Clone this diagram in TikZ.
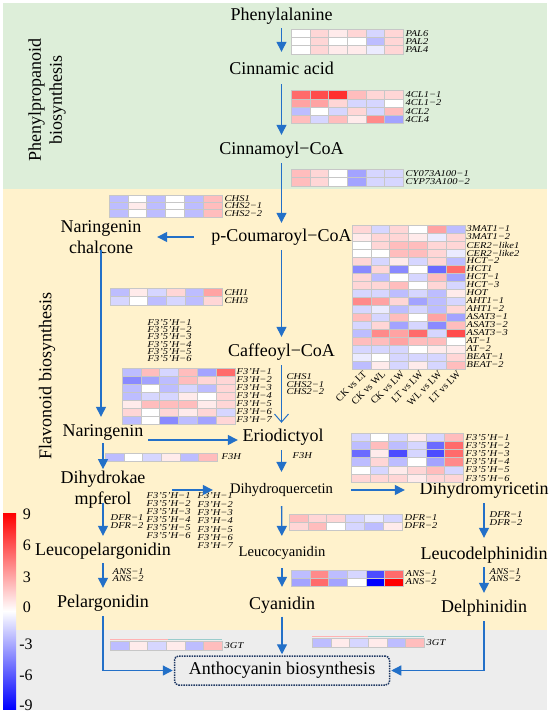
\documentclass[tikz,border=0pt]{standalone}
\usepackage{fontspec}
\setmainfont{Liberation Serif}
\usetikzlibrary{arrows.meta,calc}
\definecolor{arrblue}{RGB}{35,112,200}
\definecolor{bggreen}{RGB}{221,238,217}
\definecolor{bgyellow}{RGB}{255,242,204}
\definecolor{bggrey}{RGB}{237,237,237}
\definecolor{boxblue}{RGB}{31,56,100}
\colorlet{W}{white}
\colorlet{R1}{red!8}\colorlet{R2}{red!16}\colorlet{R3}{red!26}\colorlet{R4}{red!36}\colorlet{R5}{red!46}
\colorlet{R6}{red!58}\colorlet{R7}{red!70}\colorlet{R8}{red!82}\colorlet{R9}{red}
\colorlet{B1}{blue!8}\colorlet{B2}{blue!16}\colorlet{B3}{blue!26}\colorlet{B4}{blue!36}\colorlet{B5}{blue!46}
\colorlet{B6}{blue!58}\colorlet{B7}{blue!70}\colorlet{B8}{blue!82}\colorlet{B9}{blue}
% heatmap: x0, y0 (top), cell width, cell height, rows
\newcommand\heat[5]{%
  \foreach \rw [count=\i] in {#5}{%
    \foreach \cc [count=\j] in \rw {%
      \filldraw[fill=\cc, draw=black!22, line width=0.35pt]
        ({#1+(\j-1)*#3},{#2+(\i-1)*#4}) rectangle ++(#3,#4);}}}
% gene labels: name prefix, x, y of first, spacing, list
\newcommand\glab[5]{%
  \foreach \t [count=\k] in {#5}{%
    \node[gene] (#1\k) at (#2,{#3+(\k-1)*#4}) {\scalebox{1}[0.85]{\t}};}}
\begin{document}
\begin{tikzpicture}[x=1pt,y=-1pt,
  mainlab/.style={font=\fontsize{18}{21}\selectfont, inner sep=2pt, text height=13pt, text depth=4pt},
  mainml/.style={font=\fontsize{18}{21}\selectfont, inner sep=2pt, align=center},
  smalllab/.style={font=\fontsize{14.6}{17}\selectfont, inner sep=2pt, text height=10.5pt, text depth=3.2pt},
  gene/.style={font=\fontsize{10.5}{10.5}\selectfont\itshape, inner sep=0.5pt, anchor=west},
  collab/.style={font=\fontsize{10}{10}\selectfont, inner sep=0.5pt, anchor=east, rotate=45},
  cbl/.style={font=\fontsize{16}{16}\selectfont, inner sep=0pt},
  flow/.style={draw=arrblue, line width=1.3pt, -{Triangle[length=10pt,width=10pt]}},
  flowopen/.style={draw=arrblue, line width=1pt, -{Straight Barb[length=8pt,width=14pt]}},
  abox/.style={draw=boxblue, densely dotted, line width=1.5pt, rounded corners=4pt,
    minimum width=215pt, minimum height=29pt, font=\fontsize{18}{21}\selectfont, inner sep=2pt}
]
\useasboundingbox (0,0) rectangle (550,713);
% backgrounds
\fill[bggreen] (3,3) rectangle (547,189);
\fill[bgyellow] (3,189) rectangle (547,630);
\fill[bggrey] (3,630) rectangle (547,710);
% side titles
\node[mainml, rotate=90] (tphen) at (47,100) {Phenylpropanoid\\biosynthesis};
\node[mainml, rotate=90] (tflav) at (47,376) {Flavonoid biosynthesis};
% colour bar
\shade[top color=red, bottom color=blue, middle color=white] (3,513) rectangle (16,709);
\node[cbl] (cb1) at (27,514) {9};
\node[cbl] (cb2) at (27,545) {6};
\node[cbl] (cb3) at (27,577) {3};
\node[cbl] (cb4) at (27,607) {0};
\node[cbl] (cb5) at (26,644) {-3};
\node[cbl] (cb6) at (26,675) {-6};
\node[cbl] (cb7) at (26,705) {-9};
% metabolites
\node[mainlab] (phe) at (281.5,16) {Phenylalanine};
\node[mainlab] (cin) at (281.5,70) {Cinnamic acid};
\node[mainlab] (cinn) at (281.5,150) {Cinnamoyl−CoA};
\node[mainlab] (pcou) at (281.5,237) {p-Coumaroyl−CoA};
\node[mainml] (chal) at (101,237) {Naringenin\\chalcone};
\node[mainlab] (caf) at (281.5,352) {Caffeoyl−CoA};
\node[mainlab] (nar) at (103,432) {Naringenin};
\node[mainlab] (eri) at (283,437) {Eriodictyol};
\node[mainml] (dhk) at (103,490) {Dihydrokae\\mpferol};
\node[smalllab] (dhq) at (281.5,490) {Dihydroquercetin};
\node[mainlab] (dhm) at (484,490) {Dihydromyricetin};
\node[mainlab] (lpel) at (103,551) {Leucopelargonidin};
\node[smalllab] (lcya) at (282,553) {Leucocyanidin};
\node[mainlab] (ldel) at (484,555) {Leucodelphinidin};
\node[mainlab] (pel) at (103,603) {Pelargonidin};
\node[mainlab] (cya) at (282,605) {Cyanidin};
\node[mainlab] (del) at (484,608) {Delphinidin};
\node[abox] (anth) at (282,670.5) {Anthocyanin biosynthesis};
% heatmaps
\heat{291}{29}{18.7}{8.3}{{W,R2,R1,R2,B2,R2},{W,R2,W,W,B3,R2},{W,R2,R1,R1,B1,R2}}
\heat{291}{90.5}{18.7}{8.25}{{R6,R7,R8,R3,R2,R2},{R4,R4,R2,B2,B2,W},{B3,W,B2,R2,B2,R3},{R3,B2,R3,R1,R5,B4}}
\heat{291}{169}{18.7}{8.5}{{R3,R2,W,B4,B2,B2},{R3,R2,W,B4,B2,B2}}
\heat{109}{195}{18.8}{7.3}{{B3,W,B3,W,B3,R3},{B3,R1,B3,W,B3,R3},{B3,W,B3,W,B3,R3}}
\heat{110}{288}{18.7}{8.5}{{B3,R1,B2,R2,B3,R4},{B2,W,B3,B2,B3,R2}}
\heat{352}{225}{18.8}{8}{{R2,B2,R2,W,R4,B3},{R1,R2,R2,R1,B1,R2},{W,R2,R3,R3,R2,R2},{W,W,R3,R3,R2,B1},
 {R2,B2,R1,B2,R2,B3},{B5,R2,B5,W,B6,R6},{R2,B3,W,B2,R3,B4},{R2,R2,R3,W,R2,B2},{B2,B2,B3,B2,B3,R1},
 {R5,R4,R2,B4,B3,B2},{B2,B1,B3,B2,B3,R2},{R3,B2,R3,W,R4,B4},{B2,R2,B4,B2,B5,R3},{B3,R5,R4,R6,B2,R7},
 {R3,R3,R4,R3,R3,W},{B2,B2,B2,W,R1,R1},{B1,W,B2,B2,B2,R2},{B3,R1,B2,R1,B2,R3}}
\heat{122}{368}{18.8}{8}{{B3,R3,B2,R3,B4,R6},{B5,B4,B3,R3,R2,R2},{B3,W,B3,B2,B3,R2},{B3,B2,B2,R1,W,R2},
 {R1,R3,R3,R3,R1,R2},{R2,W,R2,R1,R2,B2},{B3,W,B5,B3,B4,R2}}
\heat{105}{453}{18.7}{8.5}{{B3,W,B2,R1,B3,R3}}
\heat{351}{433}{18.7}{8.2}{{B2,W,B2,R1,B2,R3},{B3,R3,B3,B2,B6,R6},{B6,R1,B7,B2,B7,R6},{B3,R2,B3,W,B4,R5},
 {W,B2,R1,R2,R3,B2},{R2,R2,R2,R1,R2,R2}}
\heat{289}{514}{18.8}{8}{{R3,R2,R2,B2,B1,B2},{R2,R3,W,B2,B3,R1}}
\heat{291}{570}{18.7}{8}{{B3,R5,B3,B2,B7,R6},{B4,R6,B4,W,B9,R9}}
\draw[red!30, line width=0.6pt] (110,639) -- (168,639);
\draw[teal!40, line width=0.6pt] (168,639) -- (222,639);
\heat{110}{641}{18.7}{9}{{B3,R1,B2,R1,B3,R3}}
\draw[red!30, line width=0.6pt] (312,636) -- (368,636);
\draw[teal!40, line width=0.6pt] (368,636) -- (424,636);
\heat{312}{638}{18.7}{9}{{B3,R1,B2,R1,B3,R3}}
% gene labels
\glab{pal}{405}{33.2}{8.3}{PAL6,PAL2,PAL4}
\glab{cl}{405}{94.6}{8.25}{4CL1−1,4CL1−2,4CL2,4CL4}
\glab{cyp}{405}{173.2}{8.5}{CY073A100−1,CYP73A100−2}
\glab{chsa}{224}{198.6}{7.3}{CHS1,CHS2−1,CHS2−2}
\glab{chi}{224}{292.2}{8.5}{CHI1,CHI3}
\glab{big}{466}{229}{8}{3MAT1−1,3MAT1−2,CER2−like1,CER2−like2,HCT−2,HCT1,HCT−1,HCT−3,HOT,AHT1−1,AHT1−2,ASAT3−1,ASAT3−2,ASAT3−3,AT−1,AT−2,BEAT−1,BEAT−2}
\glab{ffa}{147}{322.6}{7.2}{F3'5'H−1,F3'5'H−2,F3'5'H−3,F3'5'H−4,F3'5'H−5,F3'5'H−6}
\glab{fha}{236}{372}{8}{F3'H−1,F3'H−2,F3'H−3,F3'H−4,F3'H−5,F3'H−6,F3'H−7}
\glab{chsb}{286}{377}{7.5}{CHS1,CHS2−1,CHS2−2}
\glab{fth}{221}{457}{8}{F3H}
\glab{ftm}{292}{456}{8}{F3H}
\glab{ffb}{465}{437.1}{8.2}{F3'5'H−1,F3'5'H−2,F3'5'H−3,F3'5'H−4,F3'5'H−5,F3'5'H−6}
\glab{ffc}{146}{496}{8}{F3'5'H−1,F3'5'H−2,F3'5'H−3,F3'5'H−4,F3'5'H−5,F3'5'H−6}
\glab{fhc}{197}{496}{8.3}{F3'H−1,F3'H−2,F3'H−3,F3'H−4,F3'H−5,F3'H−6,F3'H−7}
\glab{dfra}{110}{518}{8}{DFR−1,DFR−2}
\glab{ansa}{112}{572}{7}{ANS−1,ANS−2}
\glab{dfrb}{404}{518}{8}{DFR−1,DFR−2}
\glab{ansb}{405}{574}{8}{ANS−1,ANS−2}
\glab{dfrc}{489}{515}{7.5}{DFR−1,DFR−2}
\glab{ansc}{489}{572}{7}{ANS−1,ANS−2}
\glab{gta}{224}{645.5}{8}{3GT}
\glab{gtb}{426}{642.5}{8}{3GT}
% column labels
\foreach \t [count=\k] in {CK vs LT,CK vs WL,CK vs LW,LT vs LW,WL vs LW,LT vs LW}
  \node[collab] (col\k) at ({352+18.8*(\k-0.5)+4},372) {\t};
% connectors
\draw[flow, shorten <=1.5pt, shorten >=7.5pt] (phe) -- (cin);
\draw[flow, shorten <=3.5pt, shorten >=4.5pt] (cin) -- (cinn);
\draw[flow, shorten <=2.5pt, shorten >=3.5pt] (cinn) -- (pcou);
\draw[flow, shorten <=2.5pt, shorten >=4.5pt] (pcou) -- (caf);
\draw[flow, shorten <=15.5pt, shorten >=13.5pt] (pcou) -- (chal);
\draw[flow, shorten <=-6pt, shorten >=4.5pt] (chal) -- (chal |- nar.north);
\draw[flowopen, shorten <=2.5pt, shorten >=3.5pt] (caf.south) -- (caf.south |- eri.north);
\draw[flow, shorten <=2.5pt, shorten >=2.5pt] ([yshift=-8pt]nar.east) -- ([yshift=-8pt]nar.east -| eri.west);
\draw[flow, shorten <=0.5pt, shorten >=0pt] (nar) -- (dhk);
\draw[flow, shorten <=-8pt, shorten >=4.5pt] (dhk) -- (lpel);
\draw[flow, shorten <=1.5pt, shorten >=4.5pt] (lpel) -- (pel);
\draw[flow, shorten <=24.5pt, shorten >=15pt] (dhk) -- (dhq);
\draw[flow, shorten <=16pt, shorten >=12.5pt] (dhq) -- (dhm);
\draw[flow, shorten <=2.5pt, shorten >=9pt] (dhq |- eri.south) -- (dhq);
\draw[flow, shorten <=7pt, shorten >=8pt] (dhq) -- (lcya);
\draw[flow, shorten <=6pt, shorten >=7.5pt] (lcya) -- (cya);
\draw[flow, shorten <=2.5pt, shorten >=6.5pt] (dhm) -- (ldel);
\draw[flow, shorten <=1.5pt, shorten >=4.5pt] (ldel) -- (del);
\draw[flow, shorten <=2.5pt, shorten >=1pt] (pel) |- (anth);
\draw[flow, shorten <=2.5pt, shorten >=1pt] (del) |- (anth);
\draw[flow, shorten <=1pt, shorten >=1pt] (cya) -- (anth);
\end{tikzpicture}
\end{document}
